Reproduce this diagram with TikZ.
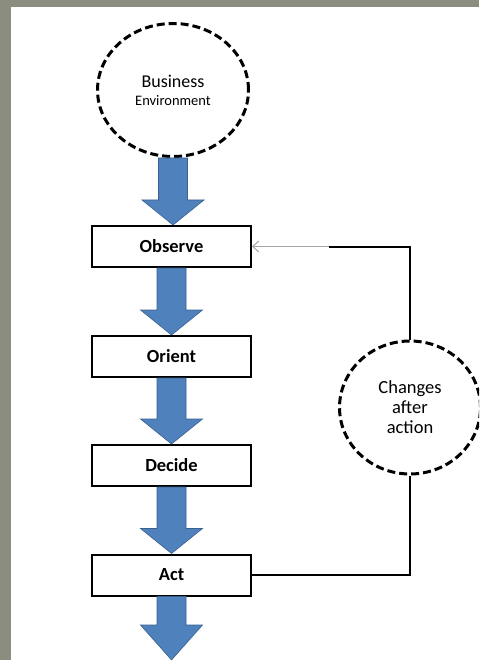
\documentclass[tikz,border=0pt]{standalone}
\usepackage{fontspec}
\setmainfont{Carlito}
\usetikzlibrary{shapes.geometric,arrows.meta,calc}

\definecolor{slate}{RGB}{139,142,126}
\definecolor{officeblue}{RGB}{79,129,189}
\definecolor{officeedge}{RGB}{58,96,142}

% block arrow pointing down: #1 start, #2 tip, #3 head length
\newcommand{\flowarrow}[3]{%
  \filldraw[flow] let \p1=(#1), \p2=(#2) in
    (\x1-14.5pt,\y1) -- (\x1+14.5pt,\y1) -- (\x1+14.5pt,\y2+#3) -- (\x1+31pt,\y2+#3)
    -- (\x1,\y2) -- (\x1-31pt,\y2+#3) -- (\x1-14.5pt,\y2+#3) -- cycle;}

\begin{document}
\begin{tikzpicture}[x=1pt,y=-1pt,
    stage/.style={draw=black, line width=2pt, fill=white, minimum width=159pt, minimum height=41pt, inner sep=0pt, font=\fontsize{18.5}{20}\selectfont\bfseries},
    cloud/.style={ellipse, draw=black, line width=3pt, dash pattern=on 8pt off 4pt, fill=white, inner sep=0pt, align=center},
    flow/.style={fill=officeblue, draw=officeedge, line width=0.6pt},
    loopline/.style={draw=black, line width=2pt},
    backline/.style={draw=gray!70, line width=1pt, -{Straight Barb[length=6pt,width=11pt]}}]
    \useasboundingbox (0,0) rectangle (479,660);
    \fill[slate] (0,0) rectangle (479,660);
    \fill[white] (11,7) rectangle (479,660);
    \clip (0,0) rectangle (479,660);

    \node[cloud, minimum width=151pt, minimum height=133pt, font=\fontsize{18}{18}\selectfont] (biz) at (173,90)
        {Business\\{\fontsize{14.5}{17}\selectfont Environment}};
    \node[stage] (obs) at (171.5,246.5) {Observe};
    \node[stage] (ori) at (171.5,356.5) {Orient};
    \node[stage] (dec) at (171.5,465.5) {Decide};
    \node[stage] (act) at (171.5,575) {Act};
    \node[cloud, minimum width=141pt, minimum height=133pt, font=\fontsize{18.5}{20}\selectfont] (chg) at (410,407.5)
        {Changes\\after\\action};
    \coordinate (out) at (171.5,660);
    \coordinate (bend) at (329,246.5);

    \flowarrow{biz.south}{obs.north}{25pt}
    \flowarrow{obs.south}{ori.north}{25pt}
    \flowarrow{ori.south}{dec.north}{25pt}
    \flowarrow{dec.south}{act.north}{25pt}
    \flowarrow{act.south}{out}{35pt}

    \draw[loopline] (act.east) -| (chg.south);
    \draw[loopline] (chg.north) |- (bend);
    \draw[backline] (bend) -- (obs.east);
\end{tikzpicture}
\end{document}
